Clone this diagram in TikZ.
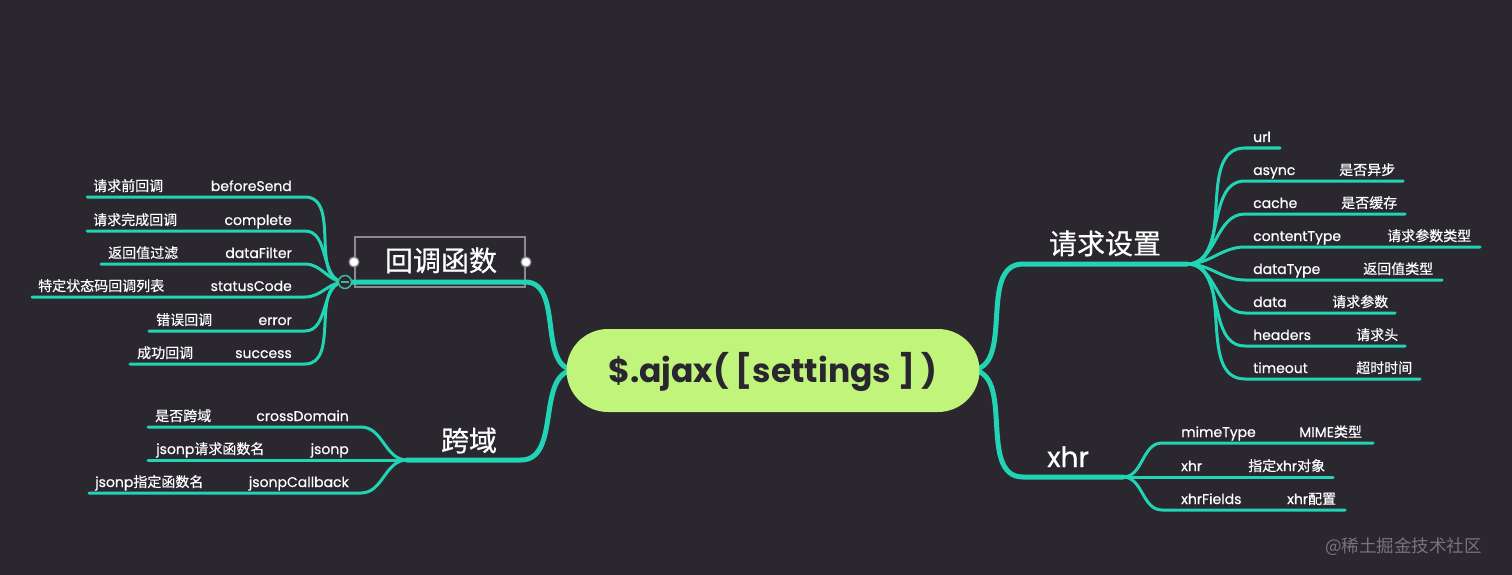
\documentclass[tikz,border=0pt]{standalone}
\usepackage{fontspec}
\setmainfont{Poppins}
\newfontfamily\lblfont{Poppins}[FakeBold=0.5]
\newfontfamily\cjk{Noto Sans CJK SC}[FakeBold=0.5]
\newfontfamily\cjkplain{Noto Sans CJK SC}
\definecolor{bgc}{HTML}{2A272F}
\definecolor{teal1}{HTML}{22D4B3}
\definecolor{lime1}{HTML}{C0F47B}
\definecolor{boxgray}{HTML}{8C8A8F}
\definecolor{wm}{HTML}{77747C}
\definecolor{rootfg}{HTML}{2A2630}
\tikzset{
 lab/.style={text=white, font=\fontsize{14}{16}\selectfont\lblfont, inner sep=0pt},
 ttl/.style={text=white, font=\fontsize{28}{32}\selectfont\cjk, inner sep=0pt},
 childln/.style={draw=teal1, line width=3pt, line cap=round},
 mainln/.style={draw=teal1, line width=5pt, line cap=round},
 dotnode/.style={circle, fill=white, draw=boxgray, line width=1.2pt, minimum size=10pt, inner sep=0pt},
}
\begin{document}
\begin{tikzpicture}[x=1pt,y=-1pt]
\useasboundingbox (0,0) rectangle (1512,575);
\fill[bgc] (0,0) rectangle (1512,575);

% key coordinates
\coordinate (rootL) at (576,370);
\coordinate (rootR) at (970,370);
\coordinate (cbend) at (525,282);
\coordinate (cbhubc) at (345,282);
\coordinate (kyend) at (521,460);
\coordinate (kyhub) at (407,460);
\coordinate (rqend) at (1023,264);
\coordinate (rqhub) at (1187,264);
\coordinate (xhend) at (1023,477);
\coordinate (xhhub) at (1123,477);

% callback title box
\node[draw=boxgray, line width=2pt, minimum width=170pt, minimum height=50pt, inner sep=0pt] (cbbox) at (440,262) {};

% main branches
\draw[mainln] (rootL) to[out=180,in=0] (cbend) -- (cbhubc);
\draw[mainln] (rootL) to[out=180,in=0] (kyend) -- (kyhub);
\draw[mainln] (rootR) to[out=0,in=180] (rqend) -- (rqhub);
\draw[mainln] (rootR) to[out=0,in=180] (xhend) -- (xhhub);

% callback children
\foreach \i/\y/\xs/\xz/\zh/\en in {
 1/197/87/93/请求前回调/beforeSend,
 2/231/87/93/请求完成回调/complete,
 3/264/101/108/返回值过滤/dataFilter,
 4/297/32/38/特定状态码回调列表/statusCode,
 5/331/149/156/错误回调/error,
 6/364/130/137/成功回调/success}{
 \coordinate (cbL\i) at (\xs,\y);
 \coordinate (cbR\i) at (305,\y);
 \draw[childln] (cbL\i) -- (cbR\i) to[out=0,in=180] (cbhubc);
 \node[lab, anchor=base west] (cbz\i) at (\xz,\y-6) {\cjk\zh};
 \node[lab, anchor=base east] (cbe\i) at (292,\y-6) {\en};
}

% cross-domain children
\coordinate (kyL1) at (148,427); \coordinate (kyR1) at (361,427);
\coordinate (kyL2) at (148,460);
\coordinate (kyL3) at (89,493);  \coordinate (kyR3) at (361,493);
\draw[childln] (kyhub) to[out=180,in=0] (kyR1) -- (kyL1);
\draw[childln] (kyhub) -- (kyL2);
\draw[childln] (kyhub) to[out=180,in=0] (kyR3) -- (kyL3);
\node[lab, anchor=base west] (kyz1) at (155,421) {\cjk 是否跨域};
\node[lab, anchor=base east] (kye1) at (349,421) {crossDomain};
\node[lab, anchor=base west] (kyz2) at (156,454) {jsonp{\cjk 请求函数名}};
\node[lab, anchor=base east] (kye2) at (349,454) {jsonp};
\node[lab, anchor=base west] (kyz3) at (95,487) {jsonp{\cjk 指定函数名}};
\node[lab, anchor=base east] (kye3) at (349,487) {jsonpCallback};

% request settings children
\foreach \i/\y/\xe/\en/\xz/\zh in {
 2/181/1403/async/1339/是否异步,
 3/214/1405/cache/1341/是否缓存,
 4/247/1480/contentType/1387/请求参数类型,
 5/280/1442/dataType/1363/返回值类型,
 6/313/1395/data/1332/请求参数,
 7/346/1405/headers/1356/请求头,
 8/379/1420/timeout/1356/超时时间}{
 \coordinate (rqL\i) at (1245,\y);
 \coordinate (rqR\i) at (\xe,\y);
 \draw[childln] (rqhub) to[out=0,in=180] (rqL\i) -- (rqR\i);
 \node[lab, anchor=base west] (rqe\i) at (1253,\y-6) {\en};
 \node[lab, anchor=base west] (rqz\i) at (\xz,\y-6) {\cjk\zh};
}
\coordinate (rqL1) at (1245,148);
\coordinate (rqR1) at (1280,148);
\draw[childln] (rqhub) to[out=0,in=180] (rqL1) -- (rqR1);
\node[lab, anchor=base west] (rqe1) at (1253,142) {url};

% xhr children
\coordinate (xhL1) at (1162,443); \coordinate (xhR1) at (1373,443);
\coordinate (xhR2) at (1333,477);
\coordinate (xhL3) at (1162,510); \coordinate (xhR3) at (1345,510);
\draw[childln] (xhhub) to[out=0,in=180] (xhL1) -- (xhR1);
\draw[childln] (xhhub) -- (xhR2);
\draw[childln] (xhhub) to[out=0,in=180] (xhL3) -- (xhR3);
\node[lab, anchor=base west] (xhe1) at (1181,437) {mimeType};
\node[lab, anchor=base west] (xhz1) at (1299,437) {MIME{\cjk 类型}};
\node[lab, anchor=base west] (xhe2) at (1181,471) {xhr};
\node[lab, anchor=base west] (xhz2) at (1248,471) {{\cjk 指定}xhr{\cjk 对象}};
\node[lab, anchor=base west] (xhe3) at (1181,504) {xhrFields};
\node[lab, anchor=base west] (xhz3) at (1287,504) {xhr{\cjk 配置}};

% hub circle and box dots
\node[circle, draw=teal1!70!gray, fill=bgc, line width=1.5pt, minimum size=13pt, inner sep=0pt] (cbhub) at (cbhubc) {};
\draw[teal1!60!gray, line width=1.3pt] ([xshift=-4pt]cbhub.center) -- ([xshift=4pt]cbhub.center);
\node[dotnode] (cbdotL) at (cbbox.west) {};
\node[dotnode] (cbdotR) at (cbbox.east) {};

% titles
\node[ttl, anchor=base] (cbt) at (441,271) {回调函数};
\node[ttl, anchor=base] (kyt) at (469,451) {跨域};
\node[ttl, anchor=base] (rqt) at (1105,254) {请求设置};
\node[text=white, font=\fontsize{28}{32}\selectfont\lblfont, inner sep=0pt, anchor=base west] (xht) at (1047,467) {xhr};

% root
\node[fill=lime1, rounded corners=41.5pt, minimum width=413pt, minimum height=83pt, inner sep=0pt,
      text height=28pt, text depth=5pt, text=rootfg,
      font=\fontsize{33}{38}\selectfont\bfseries] (root) at (773,370.5) {\$.ajax( [settings ] )};

% watermark
\node[text=wm, font=\fontsize{17.5}{20}\selectfont\cjkplain, inner sep=0pt, anchor=base west] (wmk) at (1325,552) {@稀土掘金技术社区};
\end{tikzpicture}
\end{document}
